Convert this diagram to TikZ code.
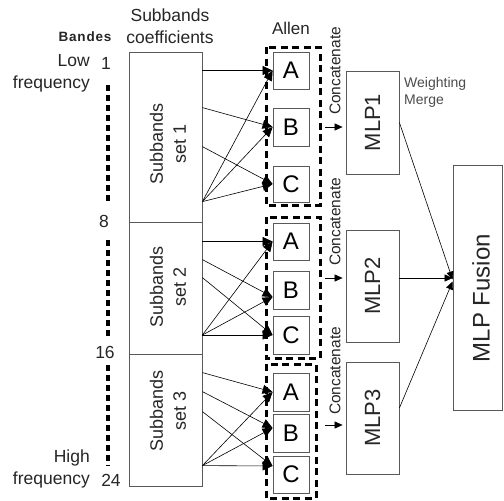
\documentclass[tikz,border=0pt]{standalone}
\usepackage{fontspec}
\setmainfont{Liberation Sans}
\usetikzlibrary{arrows.meta,calc}
\tikzset{
  box/.style={draw=black!65, line width=0.8pt, inner sep=0pt},
  abc/.style={box, minimum width=36pt, font=\fontsize{24}{26}\selectfont},
  grp/.style={draw=black, line width=3pt, dash pattern=on 7pt off 4.5pt},
  band/.style={draw=black, line width=3.5pt, dash pattern=on 6pt off 4pt},
  link/.style={draw=black, line width=0.6pt, -{Triangle[length=10pt,width=9pt]}},
  carr/.style={draw=black, line width=0.6pt, -{Triangle[length=8pt,width=7pt]}},
  lbl/.style={inner sep=0pt, text=black!85},
  big/.style={lbl, font=\fontsize{17.5}{22}\selectfont},
  rot/.style={lbl, rotate=90, align=center},
}
\begin{document}
\begin{tikzpicture}[x=1pt,y=-1pt]
\path[use as bounding box, fill=white] (0,0) rectangle (504,501);

% headers
\node[big, align=center] (hdr) at (170,26) {Subbands\\coefficients};
\node[lbl, font=\fontsize{13.5}{16}\bfseries\addfontfeature{LetterSpace=6}] (bandes) at (85,37) {Bandes};
\node[big, align=right, anchor=east] (low) at (90,73) {Low\\frequency};
\node[big, align=right, anchor=east, font=\fontsize{17.5}{22}\selectfont] (high) at (90,469) {High\\frequency};
\node[lbl, font=\fontsize{17}{20}\selectfont] (allen) at (291,28) {Allen};

% band numbers
\node[big] (n1) at (106,63) {1};
\node[big] (n8) at (104,221) {8};
\node[big] (n16) at (105,352) {16};
\node[big] (n24) at (111,480) {24};
\coordinate (d1a) at (108,85);  \coordinate (d1b) at (108,204);
\coordinate (d2a) at (108,240); \coordinate (d2b) at (108,338);
\coordinate (d3a) at (108,365); \coordinate (d3b) at (108,466);
\draw[band] (d1a) -- (d1b);
\draw[band] (d2a) -- (d2b);
\draw[band] (d3a) -- (d3b);

% subband boxes
\node[box, minimum width=73pt, minimum height=170pt] (s1) at (165.5,137) {};
\node[box, minimum width=73pt, minimum height=132pt] (s2) at (165.5,288) {};
\node[box, minimum width=73pt, minimum height=132pt] (s3) at (165.5,420) {};
\node[rot, font=\fontsize{18}{23}\selectfont] (s1t) at (168,144) {Subbands\\set 1};
\node[rot, font=\fontsize{18}{23}\selectfont] (s2t) at (168,287) {Subbands\\set 2};
\node[rot, font=\fontsize{18}{23}\selectfont] (s3t) at (168,411) {Subbands\\set 3};

% group dashed boxes
\draw[grp] (266,47) rectangle (320,205);
\draw[grp] (266,217) rectangle (320,358);
\draw[grp] (266,364) rectangle (316,498);

% A B C boxes
\node[abc, minimum height=37pt] (a1) at (291,70.5) {A};
\node[abc, minimum height=38pt] (b1) at (291,127) {B};
\node[abc, minimum height=36pt] (c1) at (291,184) {C};
\node[abc, minimum height=37pt] (a2) at (291,241.5) {A};
\node[abc, minimum height=38pt] (b2) at (291,290) {B};
\node[abc, minimum height=38pt] (c2) at (291,335) {C};
\node[abc, minimum height=38pt] (a3) at (291,392) {A};
\node[abc, minimum height=38pt] (b3) at (291,433) {B};
\node[abc, minimum height=37pt] (c3) at (291,474.5) {C};

% group 1 links
\draw[link] (s1.east |- a1.west) -- (a1.west);
\draw[link] ($(s1.north east)+(0,56)$) -- (b1.west);
\draw[link] ($(s1.north east)+(0,95)$) -- (c1.west);
\draw[link] ($(s1.north east)+(0,150)$) -- (a1.west);
\draw[link] ($(s1.north east)+(0,150)$) -- (b1.west);
\draw[link] ($(s1.north east)+(0,150)$) -- (c1.west);

% group 2 links
\draw[link] (s2.east |- a2.west) -- (a2.west);
\draw[link] ($(s2.north east)+(0,38)$) -- ($(b2.west)+(0,7)$);
\draw[link] ($(s2.north east)+(0,56)$) -- (c2.west);
\draw[link] (s2.east |- c2.west) -- (a2.west);
\draw[link] (s2.east |- c2.west) -- ($(b2.west)+(0,7)$);
\draw[link] (s2.east |- c2.west) -- (c2.west);

% group 3 links
\draw[link] ($(s3.north east)+(0,19)$) -- (a3.west);
\draw[link] ($(s3.north east)+(0,38)$) -- ($(b3.west)+(0,-5)$);
\draw[link] ($(s3.north east)+(0,58)$) -- ($(c3.west)+(0,-8.5)$);
\draw[link] ($(s3.north east)+(0,112)$) -- (a3.west);
\draw[link] ($(s3.north east)+(0,112)$) -- ($(b3.west)+(0,-5)$);
\draw[link] ($(s3.north east)+(0,112)$) -- ($(c3.west)+(0,-8.5)$);

% concatenate labels
\node[rot, font=\fontsize{15.5}{18}\selectfont] (cc1) at (335,71) {Concatenate};
\node[rot, font=\fontsize{15.5}{18}\selectfont] (cc2) at (335,222) {Concatenate};
\node[rot, font=\fontsize{15.5}{18}\selectfont] (cc3) at (335,371) {Concatenate};

% MLP boxes
\node[box, minimum width=53pt, minimum height=103pt] (m1) at (372.5,122.5) {};
\node[box, minimum width=53pt, minimum height=112pt] (m2) at (372.5,286) {};
\node[box, minimum width=53pt, minimum height=112pt] (m3) at (372.5,418) {};
\node[rot, font=\fontsize{22}{24}\selectfont] (m1t) at (m1.center) {MLP1};
\node[rot, font=\fontsize{22}{24}\selectfont] (m2t) at (m2.center) {MLP2};
\node[rot, font=\fontsize{22}{24}\selectfont] (m3t) at (m3.center) {MLP3};

% concatenate arrows
\coordinate (k1) at (325,127);
\coordinate (k2) at (325,278);
\coordinate (k3) at (325,425);
\draw[carr, shorten >=3pt] (k1) -- (k1 -| m1.west);
\draw[carr, shorten >=3pt] (k2) -- (k2 -| m2.west);
\draw[carr, shorten >=3pt] (k3) -- (k3 -| m3.west);

% weighting merge
\node[lbl, align=left, anchor=north west, text=black!70, font=\fontsize{14}{17}\selectfont] (wm) at (404,77) {Weighting\\Merge};

% fusion
\node[box, minimum width=49pt, minimum height=245pt] (f) at (477.5,287.5) {};
\node[rot, font=\fontsize{24}{26}\selectfont] (ft) at (481,298) {MLP Fusion};

\draw[carr] (m1.east) -- ($(f.west)+(0,-8)$);
\draw[carr] ($(m2.east)+(0,-8)$) -- ($(f.west)+(0,-9.5)$);
\draw[carr] ($(m3.east)+(0,-10)$) -- ($(f.west)+(0,-6)$);
\end{tikzpicture}
\end{document}
